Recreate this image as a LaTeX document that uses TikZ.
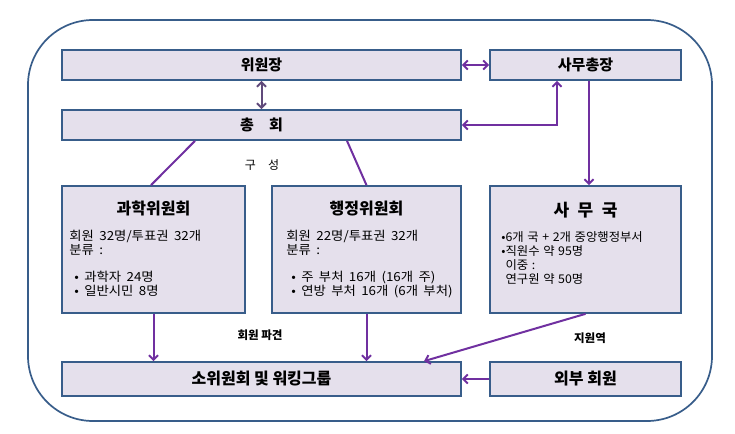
\documentclass[tikz,border=0pt]{standalone}
\usepackage{fontspec}
\setmainfont{Noto Sans CJK KR}
\newfontfamily\bodyfont{Noto Sans CJK KR}[FakeStretch=1.07,WordSpace=1.8]
\newfontfamily\officefont{Noto Sans CJK KR}[FakeStretch=1.03,WordSpace=1.3]
\usetikzlibrary{arrows.meta,positioning}
\definecolor{boxfill}{HTML}{E5E0EC}
\definecolor{boxline}{HTML}{385D8A}
\definecolor{linkc}{HTML}{7030A0}
\definecolor{linkd}{HTML}{604A7B}

\begin{document}
\begin{tikzpicture}[x=1pt,y=-1pt,>={Straight Barb[length=4.5pt,width=9pt]},
			block/.style = {draw=boxline, fill=boxfill, line width=1.7pt, shape=rectangle, inner sep=0pt},
			wblock/.style = {block, minimum width=399pt, minimum height=30pt, font=\bfseries\fontsize{15}{17}\selectfont},
			nblock/.style = {block, minimum width=191pt, minimum height=30pt, font=\bfseries\fontsize{15}{17}\selectfont},
			tblock/.style = {block, minimum height=127pt},
			title/.style = {inner sep=0pt, font=\bfseries\fontsize{16}{18}\selectfont},
			body/.style = {inner sep=0pt, anchor=north west, align=left, font=\bodyfont\fontsize{12.5}{14}\selectfont},
			link/.style = {draw=linkc, line width=2pt},
			lbl/.style = {inner sep=0pt, font=\fontsize{12}{14}\selectfont}
			]
			\useasboundingbox (0,0) rectangle (735,433);
			\draw[boxline, line width=1.7pt, rounded corners=65pt] (28,20) rectangle (712,421);
			\node [wblock] (chair) at (261.5,65) {위원장};
			\node [nblock] (secgen) at (585.5,65) {사무총장};
			\node [wblock] (assembly) at (261.5,125) {총\quad 회};
			\node [tblock, minimum width=183pt] (scicom) at (153.5,249.5) {};
			\node [tblock, minimum width=189pt] (admcom) at (366.5,249.5) {};
			\node [tblock, minimum width=191pt] (office) at (585.5,249.5) {};
			\node [wblock, minimum height=34pt, font=\bfseries\fontsize{16}{18}\selectfont] (subgrp) at (261.5,379) {소위원회 및 워킹그룹};
			\node [nblock, minimum height=34pt, font=\bfseries\fontsize{16}{18}\selectfont] (extmem) at (585.5,379) {외부 회원};
			% committee texts
			\node [title, below=16pt of scicom.north] (scititle) {과학위원회};
			\node [body] (scibody) at ([xshift=8pt,yshift=-45pt]scicom.north west) {회원 32명/투표권 32개\\ 분류 :\\[13pt]\hspace*{5pt}• 과학자 24명\\ \hspace*{5pt}• 일반시민 8명};
			\node [title, below=16pt of admcom.north] (admtitle) {행정위원회};
			\node [body] (admbody) at ([xshift=15pt,yshift=-45pt]admcom.north west) {회원 22명/투표권 32개\\ 분류 :\\[13pt]\hspace*{5pt}• 주 부처 16개 (16개 주)\\ \hspace*{5pt}• 연방 부처 16개 (6개 부처)};
			\node [title, below=17pt of office.north, font=\bfseries\fontsize{17}{19}\selectfont] (offtitle) {사\enspace 무\enspace 국};
			\node [body, font=\officefont\fontsize{12}{14}\selectfont] (offbody) at ([xshift=12pt,yshift=-46pt]office.north west) {•6개 국 + 2개 중앙행정부서\\ •직원수 약 95명\\ \phantom{•}이중 :\\ \phantom{•}연구원 약 50명};
			\node [lbl] (lblform) at (262,165) {구\quad 성};
			\node [lbl, font=\bfseries\fontsize{11.5}{13}\selectfont] (lblsend) at (260,335) {회원 파견};
			\node [lbl, font=\bfseries\fontsize{11.5}{13}\selectfont] (lblsupp) at (590,338) {지원역};
			% connectors
			\draw[<->, draw=linkd, line width=2pt] (chair.south) -- (assembly.north);
			\draw[<->, link] (chair.east) -- (secgen.west);
			\draw[<->, link] (assembly.east) -| ([xshift=-28.5pt]secgen.south);
			\draw[->, link] ([xshift=3.5pt]secgen.south) -- ([xshift=3.5pt]office.north);
			\draw[link] ([xshift=-66.5pt]assembly.south) -- ([xshift=-2.5pt]scicom.north);
			\draw[link] ([xshift=85.5pt]assembly.south) -- (admcom.north);
			\draw[->, link] (scicom.south) -- (scicom.south |- subgrp.north);
			\draw[->, link] (admcom.south) -- (admcom.south |- subgrp.north);
			\draw[->, link] (office.south) -- ([xshift=162.5pt]subgrp.north);
			\draw[->, link] (extmem.west) -- (subgrp.east);
		\end{tikzpicture}
\end{document}
